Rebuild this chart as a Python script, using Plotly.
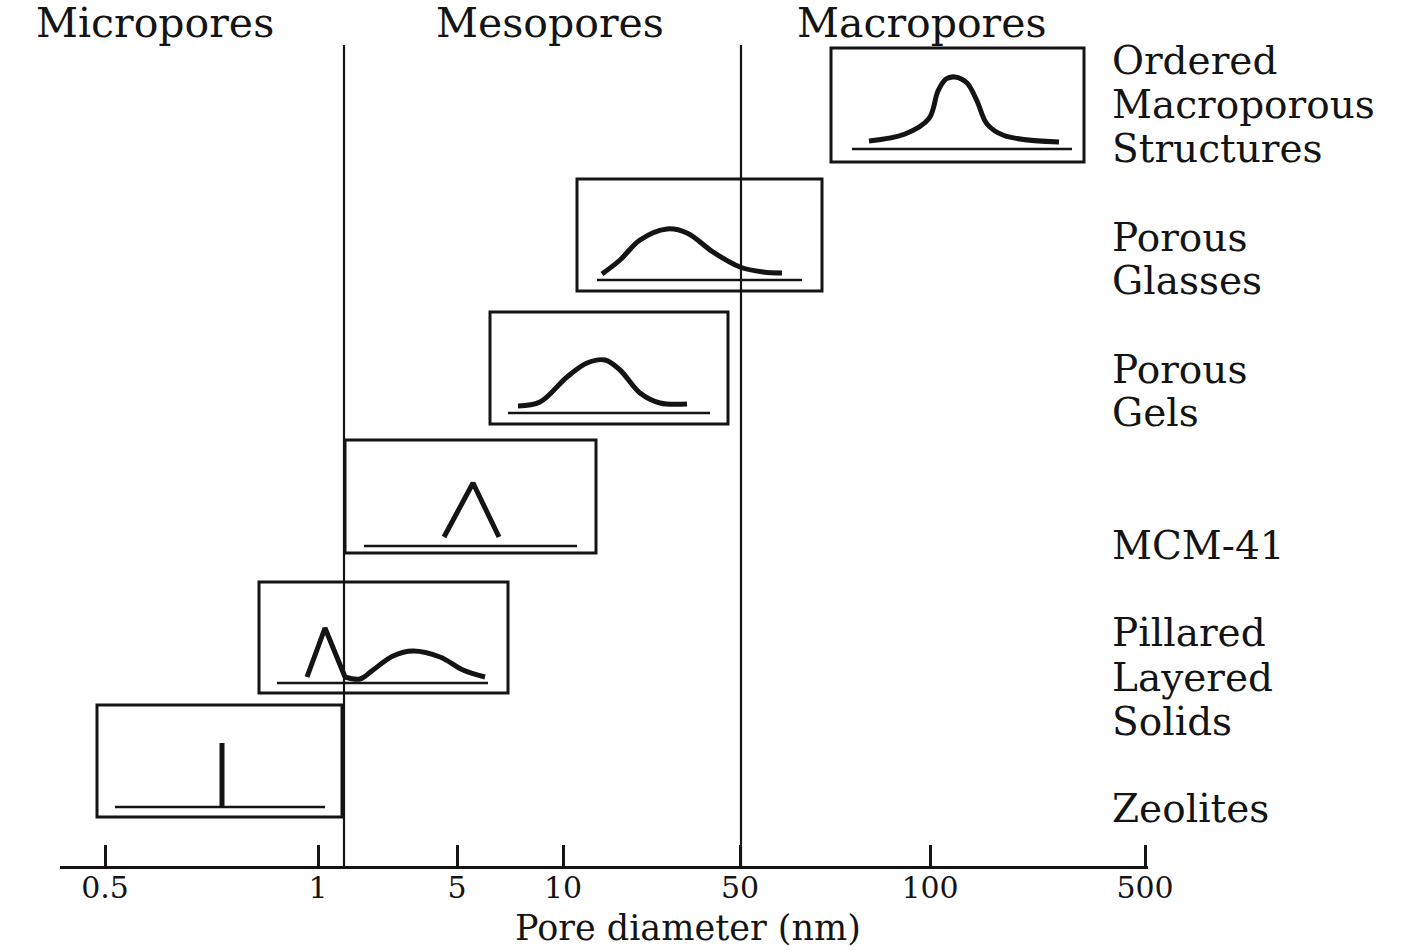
import plotly.graph_objects as go

# ---------------- data ----------------
TICK_LABELS = ["0.5", "1", "5", "10", "50", "100", "500"]
TICK_POS = [105, 318, 457, 563, 740, 930, 1145]

REGION_NAMES = ["Micropores", "Mesopores", "Macropores"]
REGION_CENTER = [155, 550, 922]
BOUNDARY_X = [344, 741]

MATERIALS = ["Ordered Macroporous Structures", "Porous Glasses", "Porous Gels",
             "MCM-41", "Pillared Layered Solids", "Zeolites"]
LABEL_LINES = [["Ordered", "Macroporous", "Structures"], ["Porous", "Glasses"],
               ["Porous", "Gels"], ["MCM-41"], ["Pillared", "Layered", "Solids"],
               ["Zeolites"]]
LABEL_Y = [[60, 104, 148], [237, 280], [369, 412], [545], [632, 677, 721], [808]]

BOX_LEFT = [831, 577, 490, 345, 259, 97]
BOX_RIGHT = [1084, 822, 728, 596, 508, 342]
BOX_TOP = [48, 179, 312, 440, 582, 705]
BOX_BOTTOM = [162, 291, 424, 553, 693, 817]
BASE_Y = [149, 280, 413, 546, 683, 807]
BASE_X0 = [852, 597, 508, 364, 277, 115]
BASE_X1 = [1072, 802, 710, 577, 488, 325]

# distribution curves (each material may have several segments)
CURVES_X = [
    [[869, 905, 929, 938, 946, 955, 967, 977, 987, 1004, 1059]],
    [[602, 620, 640, 667, 687, 713, 740, 763, 782]],
    [[518, 540, 567, 587, 605, 620, 640, 660, 687]],
    [[444, 473, 499]],
    [[307, 325, 345], [345, 360, 373, 393, 413, 440, 463, 485]],
    [[222, 222]],
]
CURVES_Y = [
    [[141, 134, 118.5, 91, 79, 77, 83, 101, 124, 135.5, 142]],
    [[274, 260, 240, 229, 233, 252, 267, 272, 273]],
    [[406, 402, 377, 363, 360, 370, 393, 403, 404]],
    [[537, 483, 537]],
    [[677, 628, 677], [677, 679, 670, 656, 651, 657, 670, 677]],
    [[807, 743]],
]
CURVES_SHAPE = [["spline"], ["spline"], ["spline"], ["linear"],
                ["linear", "spline"], ["linear"]]

# ---------------- layout constants ----------------
W, H = 1409, 950
ML, MR, MT, MB = 60, 261, 0, 84
X0, X1 = ML, W - MR          # x axis extent in diagram units
Y_AXIS = H - MB              # axis line position
INK = "#141414"
FONT = "DejaVu Serif"


def px_to_paper(px):
    return (px - X0) / (X1 - X0)


fig = go.Figure()

# region boundaries
for bx in BOUNDARY_X:
    fig.add_trace(go.Scatter(x=[bx, bx], y=[45, Y_AXIS], mode="lines",
                             line=dict(color=INK, width=2.2), hoverinfo="skip",
                             showlegend=False, cliponaxis=False))

# boxes, baselines, curves
for i, name in enumerate(MATERIALS):
    fig.add_shape(type="rect", xref="x", yref="y",
                  x0=BOX_LEFT[i], x1=BOX_RIGHT[i], y0=BOX_TOP[i], y1=BOX_BOTTOM[i],
                  line=dict(color=INK, width=3), fillcolor="rgba(0,0,0,0)")
    fig.add_trace(go.Scatter(x=[BASE_X0[i], BASE_X1[i]], y=[BASE_Y[i], BASE_Y[i]],
                             mode="lines", line=dict(color=INK, width=2.5),
                             hoverinfo="skip", showlegend=False))
    for cx, cy, shp in zip(CURVES_X[i], CURVES_Y[i], CURVES_SHAPE[i]):
        fig.add_trace(go.Scatter(x=cx, y=cy, mode="lines", name=name,
                                 line=dict(color=INK, width=5, shape=shp),
                                 showlegend=False))

# material labels
for lines, ys in zip(LABEL_LINES, LABEL_Y):
    for txt, yy in zip(lines, ys):
        fig.add_annotation(x=px_to_paper(1110), xref="paper", y=yy, yref="y",
                           text=txt, showarrow=False, xanchor="left", yanchor="middle",
                           font=dict(family=FONT, size=39, color=INK))

# region headers
for txt, cx in zip(REGION_NAMES, REGION_CENTER):
    fig.add_annotation(x=cx, xref="x", y=23, yref="y", text=txt, showarrow=False,
                       xanchor="center", yanchor="middle",
                       font=dict(family=FONT, size=41, color=INK))

# axis title
fig.add_annotation(x=688, xref="x", y=0, yref="paper",
                   text="Pore diameter (nm)", showarrow=False,
                   xanchor="center", yanchor="middle", yshift=-(928 - Y_AXIS),
                   font=dict(family=FONT, size=35, color=INK))

fig.update_layout(
    width=W, height=H, autosize=False,
    margin=dict(l=ML, r=MR, t=MT, b=MB),
    paper_bgcolor="white", plot_bgcolor="white",
    showlegend=False,
    xaxis=dict(range=[X0, X1], tickvals=TICK_POS, ticktext=TICK_LABELS,
               ticks="inside", ticklen=21, tickwidth=2.5, tickcolor=INK,
               ticklabelstandoff=-7,
               showline=True, linecolor=INK, linewidth=2.5, showgrid=False,
               zeroline=False, fixedrange=True,
               tickfont=dict(family=FONT, size=30, color=INK)),
    yaxis=dict(range=[Y_AXIS, 0], visible=False, fixedrange=True),
)

fig.write_html("out.html", config={"displayModeBar": False},
               post_script="document.body.style.margin='0';")
